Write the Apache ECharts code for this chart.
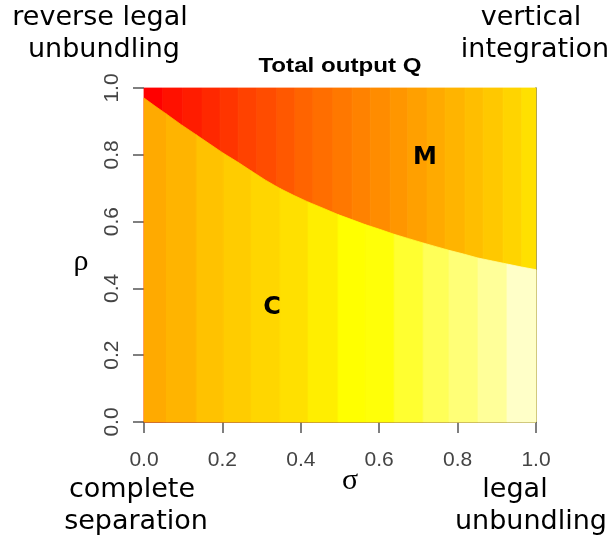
<!DOCTYPE html>
<html><head><meta charset="utf-8">
<script src="https://cdn.jsdelivr.net/npm/echarts@6/dist/echarts.min.js"></script>
<style>html,body{margin:0;padding:0;background:#fff}#c{width:610px;height:542px}</style>
</head><body><div id="c"></div>
<script>
// ---- data ----
// M region (above boundary): colour strips along sigma, with output level (0 = low/red ... 1 = high/white)
const mEdges = [0, 0.048, 0.099, 0.148, 0.194, 0.240, 0.288, 0.339, 0.385, 0.431, 0.482,
                0.531, 0.577, 0.628, 0.673, 0.722, 0.768, 0.819, 0.865, 0.916, 0.964, 1.0];
const mLevels = [0.000, 0.050, 0.082, 0.118, 0.156, 0.194, 0.224, 0.259, 0.294, 0.324, 0.353,
                 0.382, 0.412, 0.441, 0.471, 0.500, 0.529, 0.559, 0.588, 0.624, 0.659];
// C region (below boundary)
const cEdges = [0, 0.056, 0.133, 0.202, 0.273, 0.347, 0.418, 0.495, 0.564, 0.638, 0.712, 0.778, 0.852, 0.926, 1.0];
const cLevels = [0.500, 0.530, 0.570, 0.600, 0.630, 0.659, 0.700, 0.750, 0.758, 0.797, 0.836, 0.867, 0.900, 0.946];
// boundary rho*(sigma) between regions
const bSigma = [0, 0.028, 0.056, 0.095, 0.133, 0.168, 0.202, 0.238, 0.273, 0.310, 0.347, 0.383, 0.418, 0.457,
                0.495, 0.530, 0.564, 0.601, 0.638, 0.675, 0.712, 0.745, 0.778, 0.815, 0.852, 0.889, 0.926, 0.963, 1.0];
const bRho   = [0.970, 0.946, 0.923, 0.890, 0.860, 0.832, 0.805, 0.779, 0.752, 0.724, 0.699, 0.678, 0.659, 0.640,
                0.621, 0.606, 0.591, 0.577, 0.562, 0.549, 0.536, 0.525, 0.514, 0.503, 0.491, 0.482, 0.473, 0.464, 0.456];
const xTickLabels = ['0.0', '0.2', '0.4', '0.6', '0.8', '1.0'];
const yTickLabels = ['0.0', '0.2', '0.4', '0.6', '0.8', '1.0'];

// heat colour scale (red -> yellow -> white)
function heat(v) {
  if (v <= 0.75) { const g = Math.round(255 * v / 0.75); return 'rgb(255,' + g + ',0)'; }
  const s = 1 - (v - 0.75) / 0.25; const b = Math.round(255 * (1 - s));
  return 'rgb(255,255,' + b + ')';
}
function idx(s) { let best = 0; for (let k = 0; k < bSigma.length; k++) if (Math.abs(bSigma[k] - s) < Math.abs(bSigma[best] - s)) best = k; return best; }

const mData = mLevels.map((v, i) => [mEdges[i], mEdges[i + 1], v]);
const cData = cLevels.map((v, i) => [cEdges[i], cEdges[i + 1], v]);

const chart = echarts.init(document.getElementById('c'), null, { renderer: 'canvas' });
const axisCol = '#555';
const tickFont = { fontFamily: 'Liberation Sans', fontSize: 21, color: '#444' };
function txt(t, x, y, font, extra) {
  return Object.assign({ type: 'text', x: x, y: y, z: 100,
    style: { text: t, font: font, fill: '#000', align: 'center', verticalAlign: 'middle' } }, extra || {});
}
const cornerFont = '27px "DejaVu Sans"';
chart.setOption({
  animation: false,
  backgroundColor: '#fff',
  grid: { left: 144, top: 88, width: 392, height: 334 },
  xAxis: {
    type: 'value', min: 0, max: 1, interval: 0.2,
    axisLine: { show: true, lineStyle: { color: axisCol, width: 1.5 } },
    axisTick: { show: true, length: 11, lineStyle: { color: axisCol, width: 1.5 } },
    splitLine: { show: false },
    axisLabel: Object.assign({ margin: 28, formatter: (v) => xTickLabels[Math.round(v * 5)] }, tickFont)
  },
  yAxis: [{
    type: 'value', min: 0, max: 1, interval: 0.2,
    axisLine: { show: false },
    axisTick: { show: true, length: 11, lineStyle: { color: axisCol, width: 1.5 } },
    splitLine: { show: false },
    axisLabel: Object.assign({ margin: 21, rotate: 90, formatter: (v) => yTickLabels[Math.round(v * 5)] }, tickFont)
  }, {
    type: 'value', min: 0, max: 1, position: 'right',
    axisLine: { show: true, lineStyle: { color: axisCol, width: 1.5 } },
    axisTick: { show: false }, axisLabel: { show: false }, splitLine: { show: false }
  }],
  series: [{
    type: 'custom', data: mData, encode: { x: [0, 1], y: 2 }, z: 1,
    renderItem: function (params, api) {
      const p0 = api.coord([api.value(0), 1]);
      const p1 = api.coord([api.value(1), 0]);
      const c = heat(api.value(2));
      return { type: 'rect', shape: { x: p0[0], y: p0[1], width: p1[0] - p0[0], height: p1[1] - p0[1] },
        style: { fill: c, stroke: c, lineWidth: 0.8 } };
    }
  }, {
    type: 'custom', data: cData, encode: { x: [0, 1], y: 2 }, z: 2,
    renderItem: function (params, api) {
      const s0 = api.value(0), s1 = api.value(1);
      const a = idx(s0), b = idx(s1);
      const pts = [api.coord([s0, 0]), api.coord([s1, 0])];
      for (let k = b; k >= a; k--) pts.push(api.coord([bSigma[k], bRho[k]]));
      const c = heat(api.value(2));
      return { type: 'polygon', shape: { points: pts }, style: { fill: c, stroke: c, lineWidth: 0.8 } };
    }
  }],
  graphic: [
    txt('Total output Q', 340, 66, 'bold 21px "Liberation Sans"', { scaleX: 1.15 }),
    txt('reverse legal', 100, 18, cornerFont),
    txt('unbundling', 104, 50, cornerFont),
    txt('vertical', 531, 18, cornerFont),
    txt('integration', 535, 50, cornerFont),
    txt('complete', 132, 490, cornerFont),
    txt('separation', 136, 522, cornerFont),
    txt('legal', 515, 490, cornerFont),
    txt('unbundling', 531, 522, cornerFont),
    txt('M', 425, 158, 'bold 24px "DejaVu Sans"'),
    txt('C', 272, 308, 'bold 24px "DejaVu Sans"'),
    txt('ρ', 81, 262, '30px "Liberation Serif"'),
    txt('σ', 350, 481, '30px "Liberation Serif"')
  ]
});
</script></body></html>
